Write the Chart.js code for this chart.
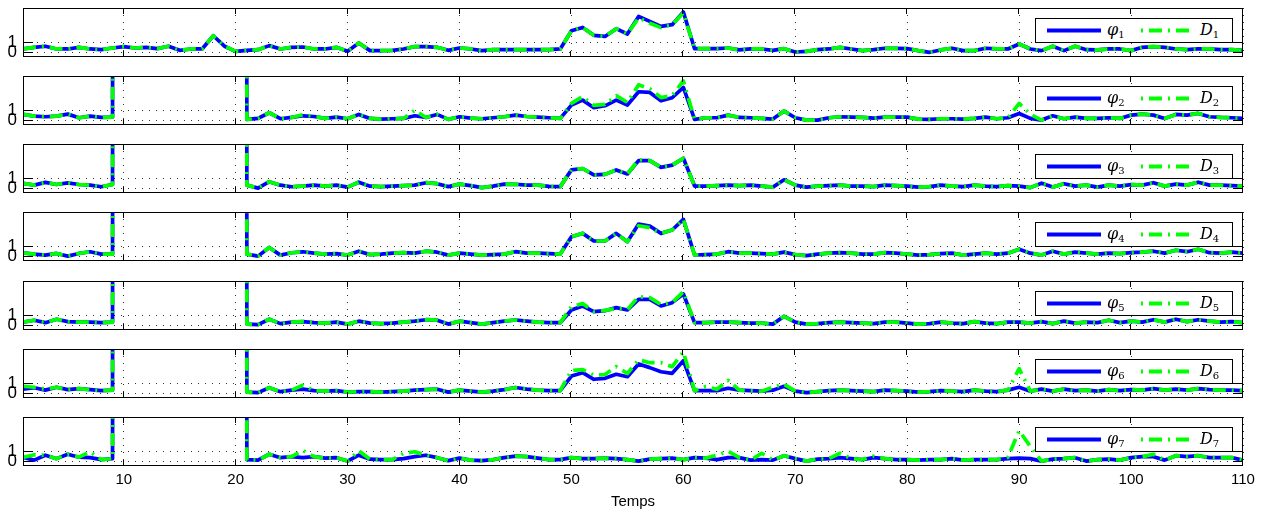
<!DOCTYPE html>
<html><head><meta charset="utf-8">
<script src="https://cdn.jsdelivr.net/npm/chart.js@4.4.1/dist/chart.umd.min.js"></script>
<style>
html,body{margin:0;padding:0;background:#fff}
body{width:1263px;height:513px;overflow:hidden;position:relative;font-family:"Liberation Sans",Arial,sans-serif}
canvas{position:absolute;left:0}
.leg{position:absolute;left:1035px;width:198px;height:25px;border:1px solid #000;background:#fff;box-sizing:border-box;z-index:5}
.leg svg{position:absolute;left:0;top:0}
.leg span{position:absolute;top:1px;font-family:"DejaVu Serif","Liberation Serif",serif;font-style:italic;font-size:16px;line-height:20px;color:#000}
.leg sub{font-size:10px;font-style:normal;vertical-align:-3px;line-height:0}
</style>
</head><body>
<script>
const temps = [1,2,3,4,5,6,7,8,9,10,11,12,13,14,15,16,17,18,19,20,21,22,23,24,25,26,27,28,29,30,31,32,33,34,35,36,37,38,39,40,41,42,43,44,45,46,47,48,49,50,51,52,53,54,55,56,57,58,59,60,61,62,63,64,65,66,67,68,69,70,71,72,73,74,75,76,77,78,79,80,81,82,83,84,85,86,87,88,89,90,91,92,93,94,95,96,97,98,99,100,101,102,103,104,105,106,107,108,109,110];
const xTickValues = [10,20,30,40,50,60,70,80,90,100,110];
const yTickValues = [0,1];
const seriesNames = [["φ","D"]];
const panelIndex = [1,2,3,4,5,6,7];

const phi1 = [0.32,0.49,0.60,0.32,0.32,0.49,0.32,0.25,0.42,0.56,
 0.42,0.49,0.35,0.60,0.18,0.32,0.32,1.67,0.60,0.08,
 0.18,0.25,0.66,0.32,0.49,0.52,0.32,0.32,0.49,0.08,
 0.93,0.15,0.15,0.18,0.32,0.56,0.56,0.49,0.18,0.42,
 0.32,0.15,0.25,0.25,0.25,0.25,0.25,0.25,0.32,2.18,
 2.52,1.71,1.60,2.39,1.85,3.64,3.13,2.62,2.80,4.09,
 0.35,0.35,0.35,0.42,0.22,0.32,0.32,0.18,0.35,0.01,
 0.08,0.25,0.32,0.49,0.32,0.15,0.25,0.39,0.39,0.35,
 0.15,-0.02,0.22,0.39,0.15,0.15,0.39,0.32,0.32,0.83,
 0.32,0.15,0.60,0.15,0.60,0.25,0.22,0.32,0.32,0.15,
 0.49,0.56,0.49,0.32,0.25,0.32,0.32,0.25,0.25,0.18];
const d1 = [0.32,0.49,0.60,0.32,0.32,0.49,0.32,0.25,0.42,0.56,
 0.42,0.49,0.35,0.60,0.18,0.32,0.32,1.67,0.60,0.08,
 0.18,0.25,0.66,0.32,0.49,0.52,0.32,0.32,0.49,0.08,
 0.93,0.15,0.15,0.18,0.32,0.56,0.56,0.49,0.18,0.42,
 0.32,0.15,0.25,0.25,0.25,0.25,0.25,0.25,0.32,2.18,
 2.52,1.71,1.60,2.39,1.85,3.50,2.95,2.50,2.80,4.00,
 0.35,0.35,0.35,0.42,0.22,0.32,0.32,0.18,0.35,0.01,
 0.08,0.25,0.32,0.49,0.32,0.15,0.25,0.39,0.39,0.35,
 0.15,-0.02,0.22,0.39,0.15,0.15,0.39,0.32,0.32,0.83,
 0.32,0.15,0.60,0.15,0.60,0.25,0.22,0.32,0.32,0.15,
 0.49,0.56,0.49,0.32,0.25,0.32,0.32,0.25,0.25,0.18];

const phi2 = [0.58,0.40,0.34,0.40,0.61,0.24,0.40,0.27,0.30,1000,
 1000,1000,1000,1000,1000,1000,1000,1000,1000,1000,
 0.07,0.17,0.75,0.14,0.27,0.44,0.37,0.17,0.30,0.14,
 0.58,0.17,0.10,0.14,0.17,0.44,0.27,0.58,0.07,0.34,
 0.20,0.14,0.24,0.34,0.51,0.37,0.30,0.24,0.17,1.53,
 2.04,1.26,1.46,2.04,1.53,2.89,2.82,1.97,2.28,3.33,
 0.07,0.24,0.24,0.51,0.27,0.24,0.17,0.10,0.92,0.24,
 0.00,0.00,0.24,0.34,0.30,0.27,0.20,0.30,0.30,0.30,
 0.10,0.07,0.14,0.14,0.10,0.17,0.30,0.14,0.24,0.68,
 0.17,0.00,0.44,0.14,0.30,0.17,0.17,0.24,0.17,0.51,
 0.61,0.51,0.17,0.58,0.51,0.68,0.34,0.27,0.24,0.17];
const d2 = [0.58,0.40,0.34,0.40,0.61,0.24,0.40,0.27,0.30,1000,
 1000,1000,1000,1000,1000,1000,1000,1000,1000,1000,
 0.07,0.17,0.75,0.14,0.27,0.55,0.37,0.17,0.30,0.14,
 0.58,0.17,0.10,0.14,0.17,1.00,0.27,0.58,0.07,0.34,
 0.20,0.14,0.24,0.34,0.51,0.37,0.30,0.24,0.17,1.70,
 2.40,1.50,1.60,2.50,1.80,3.60,3.20,2.30,2.50,4.00,
 0.07,0.24,0.24,0.51,0.27,0.24,0.17,0.10,0.92,0.24,
 0.00,0.00,0.24,0.34,0.30,0.27,0.20,0.30,0.30,0.30,
 0.10,0.07,0.14,0.14,0.10,0.17,0.30,0.14,0.24,1.70,
 0.60,0.00,0.44,0.14,0.30,0.17,0.17,0.24,0.17,0.51,
 0.61,0.51,0.17,0.58,0.51,0.68,0.34,0.27,0.24,0.17];

const phi3 = [0.48,0.30,0.58,0.37,0.54,0.37,0.30,0.14,0.37,1000,
 1000,1000,1000,1000,1000,1000,1000,1000,1000,1000,
 0.30,0.00,0.65,0.30,0.14,0.20,0.30,0.20,0.30,0.10,
 0.60,0.20,0.15,0.20,0.25,0.30,0.55,0.45,0.15,0.40,
 0.25,0.05,0.20,0.40,0.39,0.30,0.30,0.18,0.15,1.86,
 2.00,1.34,1.40,1.85,1.44,2.80,2.80,2.12,2.35,3.04,
 0.21,0.20,0.25,0.30,0.25,0.30,0.20,0.10,0.85,0.30,
 0.10,0.20,0.25,0.30,0.20,0.20,0.15,0.30,0.25,0.20,
 0.10,0.15,0.30,0.20,0.15,0.30,0.20,0.15,0.25,0.20,
 0.05,0.50,0.10,0.45,0.20,0.30,0.10,0.30,0.20,0.35,
 0.30,0.55,0.20,0.40,0.30,0.60,0.30,0.30,0.25,0.20];
const d3 = [0.48,0.30,0.58,0.37,0.54,0.37,0.30,0.14,0.37,1000,
 1000,1000,1000,1000,1000,1000,1000,1000,1000,1000,
 0.30,0.00,0.65,0.30,0.14,0.20,0.30,0.20,0.30,0.10,
 0.60,0.20,0.15,0.20,0.25,0.30,0.55,0.45,0.15,0.40,
 0.25,0.05,0.20,0.40,0.39,0.30,0.30,0.18,0.15,1.86,
 2.00,1.34,1.40,1.85,1.44,2.90,2.80,2.12,2.35,3.04,
 0.21,0.20,0.25,0.30,0.25,0.30,0.20,0.10,0.85,0.30,
 0.10,0.20,0.25,0.30,0.20,0.20,0.15,0.30,0.25,0.20,
 0.10,0.15,0.30,0.20,0.15,0.30,0.20,0.15,0.25,0.20,
 0.05,0.50,0.10,0.45,0.20,0.30,0.10,0.30,0.20,0.35,
 0.30,0.55,0.20,0.40,0.30,0.60,0.30,0.30,0.25,0.20];

const phi4 = [0.34,0.20,0.10,0.27,0.00,0.27,0.44,0.20,0.20,1000,
 1000,1000,1000,1000,1000,1000,1000,1000,1000,1000,
 0.20,0.00,0.88,0.10,0.34,0.44,0.30,0.20,0.25,0.10,
 0.50,0.15,0.20,0.30,0.35,0.30,0.50,0.40,0.10,0.30,
 0.20,0.10,0.15,0.20,0.45,0.30,0.30,0.25,0.21,1.98,
 2.32,1.54,1.54,2.32,1.47,3.27,3.07,2.32,2.66,3.75,
 0.11,0.15,0.20,0.45,0.30,0.30,0.25,0.20,0.40,0.15,
 0.05,0.20,0.30,0.35,0.30,0.20,0.20,0.35,0.30,0.20,
 0.10,0.15,0.25,0.30,0.10,0.20,0.30,0.20,0.30,0.70,
 0.30,0.10,0.50,0.20,0.40,0.30,0.20,0.30,0.25,0.35,
 0.40,0.50,0.30,0.60,0.45,0.70,0.35,0.30,0.40,0.30];
const d4 = [0.34,0.20,0.10,0.27,0.00,0.27,0.44,0.20,0.20,1000,
 1000,1000,1000,1000,1000,1000,1000,1000,1000,1000,
 0.20,0.00,0.88,0.10,0.34,0.44,0.30,0.20,0.25,0.10,
 0.50,0.15,0.20,0.30,0.35,0.30,0.50,0.40,0.10,0.30,
 0.20,0.10,0.15,0.20,0.45,0.30,0.30,0.25,0.21,1.98,
 2.32,1.54,1.54,2.32,1.47,3.10,2.90,2.32,2.66,3.75,
 0.11,0.15,0.20,0.45,0.30,0.30,0.25,0.20,0.40,0.15,
 0.05,0.20,0.30,0.35,0.30,0.20,0.20,0.35,0.30,0.20,
 0.10,0.15,0.25,0.30,0.10,0.20,0.30,0.20,0.30,0.70,
 0.30,0.10,0.50,0.20,0.40,0.30,0.20,0.30,0.25,0.35,
 0.40,0.50,0.30,0.60,0.45,0.70,0.35,0.30,0.40,0.30];

const phi5 = [0.30,0.50,0.25,0.60,0.35,0.30,0.30,0.25,0.30,1000,
 1000,1000,1000,1000,1000,1000,1000,1000,1000,1000,
 0.10,0.05,0.60,0.15,0.30,0.35,0.25,0.20,0.30,0.10,
 0.40,0.20,0.15,0.20,0.30,0.40,0.55,0.50,0.10,0.40,
 0.25,0.10,0.25,0.40,0.52,0.40,0.30,0.25,0.25,1.54,
 1.95,1.37,1.47,1.78,1.54,2.63,2.63,1.95,2.29,3.17,
 0.25,0.25,0.30,0.30,0.25,0.20,0.20,0.10,0.90,0.30,
 0.10,0.15,0.25,0.30,0.25,0.20,0.15,0.30,0.30,0.20,
 0.10,0.15,0.30,0.20,0.15,0.35,0.20,0.15,0.30,0.30,
 0.20,0.35,0.15,0.40,0.20,0.30,0.25,0.50,0.25,0.40,
 0.30,0.55,0.30,0.60,0.35,0.55,0.40,0.30,0.35,0.25];
const d5 = [0.30,0.50,0.25,0.60,0.35,0.30,0.30,0.25,0.30,1000,
 1000,1000,1000,1000,1000,1000,1000,1000,1000,1000,
 0.10,0.05,0.60,0.15,0.30,0.35,0.25,0.20,0.30,0.10,
 0.40,0.20,0.15,0.20,0.30,0.40,0.55,0.50,0.10,0.40,
 0.25,0.10,0.25,0.40,0.52,0.40,0.30,0.25,0.25,1.88,
 2.20,1.40,1.50,1.70,1.60,2.90,2.80,2.10,2.30,3.40,
 0.25,0.25,0.30,0.30,0.25,0.20,0.20,0.10,0.90,0.30,
 0.10,0.15,0.25,0.30,0.25,0.20,0.15,0.30,0.30,0.20,
 0.10,0.15,0.30,0.20,0.15,0.35,0.20,0.15,0.30,0.30,
 0.20,0.35,0.15,0.40,0.20,0.30,0.25,0.50,0.25,0.40,
 0.30,0.55,0.30,0.60,0.35,0.55,0.40,0.30,0.35,0.25];

const phi6 = [0.40,0.55,0.30,0.60,0.35,0.45,0.35,0.25,0.30,1000,
 1000,1000,1000,1000,1000,1000,1000,1000,1000,1000,
 0.10,0.05,0.55,0.15,0.30,0.40,0.25,0.20,0.25,0.10,
 0.15,0.15,0.10,0.15,0.20,0.30,0.35,0.40,0.10,0.30,
 0.20,0.10,0.20,0.35,0.57,0.40,0.30,0.25,0.25,1.74,
 2.08,1.41,1.51,1.92,1.67,2.97,2.60,2.18,2.02,3.31,
 0.25,0.25,0.25,0.50,0.30,0.25,0.20,0.30,0.70,0.20,
 0.05,0.15,0.25,0.30,0.25,0.20,0.15,0.30,0.25,0.20,
 0.10,0.15,0.25,0.20,0.15,0.30,0.20,0.15,0.30,0.60,
 0.20,0.40,0.20,0.40,0.25,0.30,0.20,0.35,0.25,0.35,
 0.30,0.45,0.30,0.40,0.30,0.45,0.35,0.30,0.30,0.25];
const d6 = [0.70,0.60,0.40,0.60,0.35,0.45,0.35,0.25,0.30,1000,
 1000,1000,1000,1000,1000,1000,1000,1000,1000,1000,
 0.10,0.05,0.55,0.15,0.30,0.80,0.25,0.20,0.25,0.10,
 0.15,0.15,0.10,0.15,0.20,0.30,0.35,0.40,0.10,0.30,
 0.20,0.10,0.20,0.35,0.57,0.40,0.30,0.25,0.25,2.30,
 2.40,1.84,1.90,2.70,2.00,3.40,3.10,3.10,2.70,4.20,
 0.25,0.67,0.40,1.30,0.30,0.25,0.20,0.60,0.90,0.20,
 0.05,0.15,0.25,0.30,0.25,0.20,0.15,0.30,0.25,0.20,
 0.10,0.15,0.25,0.20,0.15,0.30,0.20,0.15,0.30,2.50,
 0.20,0.40,0.20,0.40,0.25,0.30,0.20,0.35,0.25,0.35,
 0.30,0.45,0.30,0.40,0.30,0.45,0.35,0.30,0.30,0.25];

const phi7 = [0.37,0.10,0.60,0.25,0.70,0.40,0.35,0.15,0.25,1000,
 1000,1000,1000,1000,1000,1000,1000,1000,1000,1000,
 0.15,0.10,0.70,0.35,0.45,0.35,0.45,0.30,0.35,0.00,
 0.60,0.20,0.15,0.15,0.25,0.45,0.60,0.35,0.05,0.30,
 0.10,0.05,0.15,0.35,0.50,0.45,0.30,0.15,0.15,0.35,
 0.25,0.25,0.30,0.25,0.15,0.00,0.20,0.25,0.30,0.15,
 0.35,0.30,0.15,0.35,0.35,0.10,0.15,0.10,0.55,0.25,
 0.00,0.20,0.25,0.35,0.25,0.15,0.35,0.25,0.15,0.15,
 0.10,0.15,0.15,0.25,0.10,0.15,0.15,0.15,0.25,0.30,
 0.25,0.00,0.20,0.25,0.35,0.00,0.15,0.20,0.10,0.35,
 0.45,0.45,0.10,0.55,0.45,0.55,0.35,0.35,0.35,0.10];
const d7 = [0.37,0.65,0.60,0.25,0.70,0.40,0.95,0.15,0.25,1000,
 1000,1000,1000,1000,1000,1000,1000,1000,1000,1000,
 0.15,0.10,0.70,0.35,0.45,1.10,0.45,0.30,0.35,0.00,
 1.05,0.20,0.15,0.15,0.80,0.95,0.60,0.35,0.05,0.30,
 0.10,0.05,0.15,0.35,0.50,0.45,0.30,0.15,0.15,0.35,
 0.25,0.25,0.30,0.25,0.15,0.00,0.20,0.25,0.30,0.15,
 0.35,0.30,0.60,1.00,0.35,0.10,0.80,0.10,0.55,0.25,
 0.00,0.20,0.25,0.80,0.25,0.15,0.50,0.25,0.15,0.15,
 0.10,0.15,0.15,0.25,0.10,0.15,0.15,0.15,0.40,3.10,
 1.50,0.00,0.20,0.25,0.35,0.00,0.15,0.20,0.10,0.35,
 0.45,0.70,0.10,0.55,0.45,0.55,0.35,0.35,0.35,0.10];

const phiSeries = [phi1,phi2,phi3,phi4,phi5,phi6,phi7];
const dSeries = [d1,d2,d3,d4,d5,d6,d7];

const PANEL_TOPS = [8,76,144,212,281,349,417];
const PANEL_H = 49;
const PAD_TOP = 4;

const framePlugin = {
  id: 'frame',
  afterDraw(chart) {
    const {ctx, chartArea: a, scales: {x, y}} = chart;
    ctx.save();
    ctx.strokeStyle = '#000';
    ctx.lineWidth = 1;
    ctx.setLineDash([]);
    ctx.beginPath();
    x.ticks.forEach(t => {
      const px = Math.round(x.getPixelForValue(t.value)) - 0.5;
      ctx.moveTo(px, a.top); ctx.lineTo(px, a.top + 6);
      ctx.moveTo(px, a.bottom); ctx.lineTo(px, a.bottom - 6);
    });
    y.ticks.forEach(t => {
      const py = Math.round(y.getPixelForValue(t.value)) + 0.5;
      ctx.moveTo(a.left, py); ctx.lineTo(a.left + 10, py);
      ctx.moveTo(a.right, py); ctx.lineTo(a.right - 10, py);
    });
    ctx.stroke();
    ctx.strokeRect(a.left + 0.5, a.top + 0.5, a.right - a.left - 1, a.bottom - a.top - 1);
    ctx.restore();
  }
};

function makePanel(i) {
  const last = i === 6;
  const cv = document.createElement('canvas');
  const h = last ? (513 - (PANEL_TOPS[i] - PAD_TOP)) : (PANEL_H + PAD_TOP * 2);
  cv.width = 1263; cv.height = h;
  cv.style.top = (PANEL_TOPS[i] - PAD_TOP) + 'px';
  cv.style.width = '1263px'; cv.style.height = h + 'px';
  document.body.appendChild(cv);
  const xAxisH = h - PAD_TOP - PANEL_H;
  new Chart(cv.getContext('2d'), {
    type: 'line',
    data: {
      labels: temps,
      datasets: [
        { label: 'D', data: dSeries[i].map((v, k) => ({x: temps[k], y: v})), borderColor: '#00ff00', borderWidth: 3.7,
          borderDash: [13, 6, 2, 6], pointRadius: 0, tension: 0, fill: false, order: 0, clip: 0, borderJoinStyle: 'round' },
        { label: 'φ', data: phiSeries[i].map((v, k) => ({x: temps[k], y: v})), borderColor: '#0000ff', borderWidth: 3.7,
          pointRadius: 0, tension: 0, fill: false, order: 1, clip: 0, borderJoinStyle: 'round' }
      ]
    },
    options: {
      responsive: false, animation: false, devicePixelRatio: 1,
      layout: { padding: { top: PAD_TOP, right: 20, left: 0, bottom: 0 } },
      plugins: { legend: { display: false }, tooltip: { enabled: false } },
      scales: {
        x: {
          type: 'linear', min: 1, max: 110,
          afterBuildTicks: s => { s.ticks = xTickValues.map(v => ({value: v})); },
          afterFit: s => { s.height = xAxisH; s.paddingLeft = 0; s.paddingRight = 0; },
          ticks: { display: last, font: { family: 'Liberation Sans', size: 15 }, color: '#000', padding: 5, maxRotation: 0, autoSkip: false },
          grid: { color: 'rgba(0,0,0,0.8)', lineWidth: 1, drawTicks: false, borderDash: [1, 6] },
          border: { display: false, dash: [1, 6] },
          title: { display: last, text: 'Temps', font: { family: 'Liberation Sans', size: 15 }, color: '#000', padding: { top: 0, bottom: 2 } }
        },
        y: {
          type: 'linear', min: -0.5, max: 4.5,
          afterBuildTicks: s => { s.ticks = yTickValues.map(v => ({value: v})); },
          afterFit: s => { s.width = 23; s.paddingTop = 0; s.paddingBottom = 0; },
          ticks: { font: { family: 'Liberation Sans', size: 17 }, color: '#000', padding: 6 },
          grid: { color: 'rgba(0,0,0,0.8)', lineWidth: 1, drawTicks: false, borderDash: [1, 6] },
          border: { display: false, dash: [1, 6] }
        }
      }
    },
    plugins: [framePlugin]
  });

  const leg = document.createElement('div');
  leg.className = 'leg';
  leg.style.top = (PANEL_TOPS[i] + 10) + 'px';
  const n = panelIndex[i];
  leg.innerHTML =
    '<svg width="198" height="25"><line x1="11" y1="11.5" x2="65" y2="11.5" stroke="#0000ff" stroke-width="4"/>' +
    '<line x1="105" y1="11.5" x2="156" y2="11.5" stroke="#00ff00" stroke-width="4" stroke-dasharray="2 6 13 6"/></svg>' +
    '<span style="left:71px">' + seriesNames[0][0] + '<sub>' + n + '</sub></span>' +
    '<span style="left:164px">' + seriesNames[0][1] + '<sub>' + n + '</sub></span>';
  document.body.appendChild(leg);
}
panelIndex.forEach((_, i) => makePanel(i));
</script>
</body></html>
